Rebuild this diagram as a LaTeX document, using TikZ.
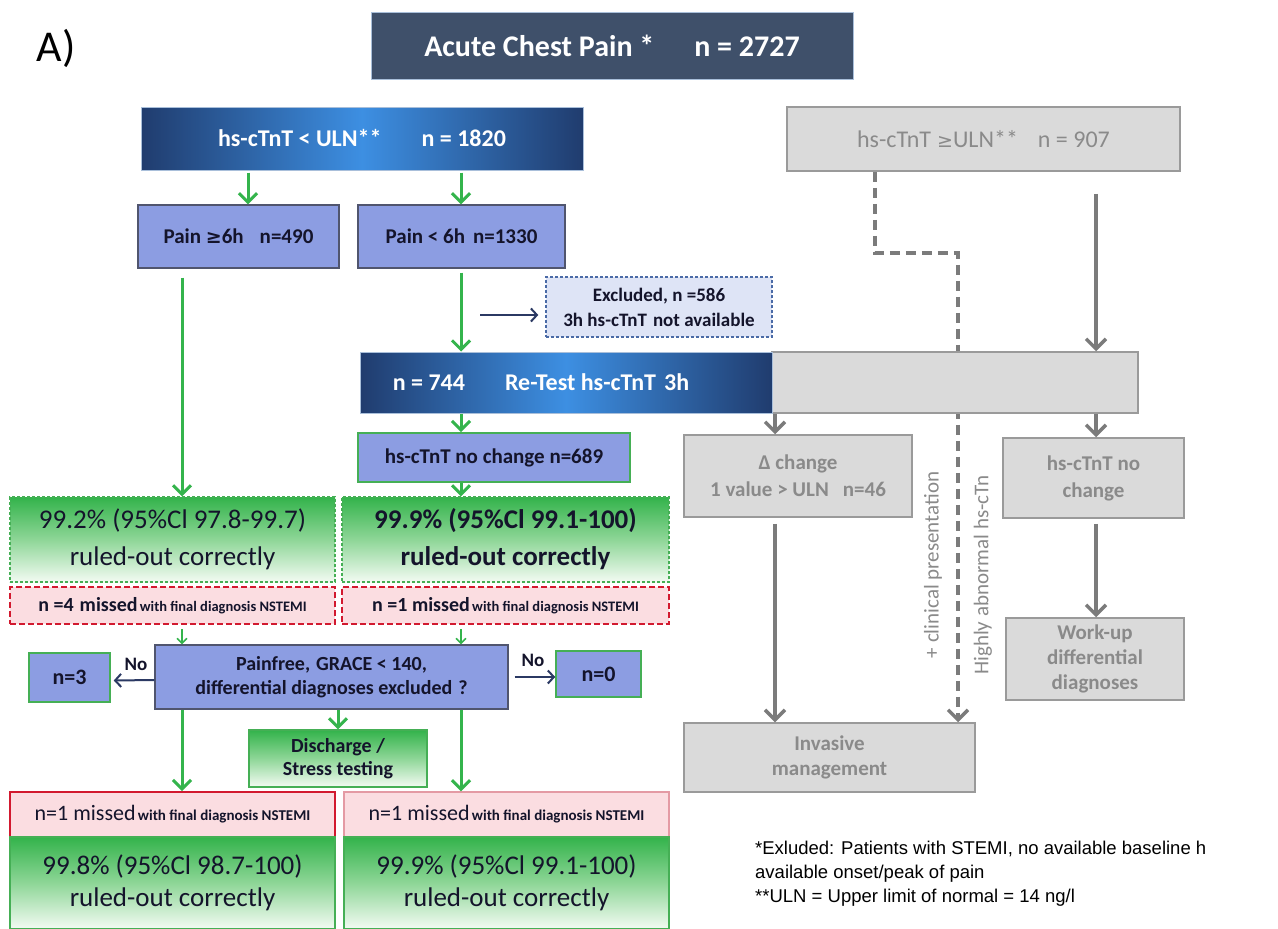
\documentclass[tikz,border=0pt]{standalone}
\usepackage{fontspec}
\setmainfont{Carlito}
\newfontfamily\arialf{Liberation Sans}
\newfontfamily\dejavu{DejaVu Sans}
\usetikzlibrary{arrows.meta,calc}
\pgfdeclarelayer{bg}
\pgfsetlayers{bg,main}
\definecolor{slate}{HTML}{3F506A}
\definecolor{slateedge}{HTML}{A9BFDA}
\definecolor{navyA}{HTML}{203C6E}
\definecolor{blueB}{HTML}{3D8FE2}
\definecolor{peri}{HTML}{8C9DE2}
\definecolor{periedge}{HTML}{50556E}
\definecolor{ink}{HTML}{14142B}
\definecolor{grn}{HTML}{33B34B}
\definecolor{grnmid}{HTML}{8ED697}
\definecolor{grnlight}{HTML}{F3FBF3}
\definecolor{grnedge}{HTML}{45AF55}
\definecolor{arrgrn}{HTML}{34B44C}
\definecolor{pinkf}{HTML}{FBDDE1}
\definecolor{redd}{HTML}{D2192F}
\definecolor{redl}{HTML}{E49AA4}
\definecolor{grayf}{HTML}{DADADA}
\definecolor{graye}{HTML}{9A9A9A}
\definecolor{grayt}{HTML}{8A8A8A}
\definecolor{grayarr}{HTML}{7B7B7B}
\definecolor{excf}{HTML}{DEE4F6}
\definecolor{excedge}{HTML}{4A6AA6}
\definecolor{arrnavy}{HTML}{2B3963}
\newcommand{\fz}[2]{\fontsize{#1}{#2}\selectfont}
\newcommand{\geqs}{{\dejavu\fz{19}{22}≥}}
\tikzset{
 bx/.style={rectangle, inner sep=0pt, align=center},
 darkbox/.style={bx, fill=slate, draw=slateedge, line width=1pt, text=white, font=\bfseries\fz{30}{36}},
 bluebox/.style={bx, left color=navyA, right color=navyA, middle color=blueB, draw=slateedge, line width=1pt, text=white, font=\bfseries\fz{24}{29}},
 peribox/.style={bx, fill=peri, draw=periedge, line width=1.3pt, text=ink, font=\bfseries\fz{21}{25}},
 graybox/.style={bx, fill=grayf, draw=graye, line width=1.5pt, text=grayt, font=\bfseries\fz{21}{25}},
 grnbox/.style={bx, top color=grn, bottom color=grnlight, middle color=grnmid, text=ink},
 pinkbox/.style={bx, fill=pinkf, text=ink},
 garr/.style={draw=arrgrn, line width=3pt, -{Straight Barb[length=9pt,width=18pt]}},
 gsmall/.style={draw=arrgrn, line width=1.5pt, -{Straight Barb[length=5pt,width=10pt]}},
 grarr/.style={draw=grayarr, line width=3.5pt, -{Straight Barb[length=10pt,width=20pt]}},
 narr/.style={draw=arrnavy, line width=2pt, -{Straight Barb[length=6pt,width=13pt]}},
 dasharr/.style={draw=grayarr, line width=3.5pt, dash pattern=on 10pt off 6pt, -{Straight Barb[length=10pt,width=20pt]}},
 lab/.style={inner sep=0pt, text=ink, font=\bfseries\fz{19}{22}}
}
\begin{document}
\begin{tikzpicture}[x=1pt,y=-1pt]
\useasboundingbox (0,0) rectangle (1278,929);
\begin{pgfonlayer}{bg}
\fill[white] (0,0) rectangle (1278,929);
\end{pgfonlayer}

% column coordinates
\coordinate (pA) at (248,0);
\coordinate (colA) at (182,0);
\coordinate (colB) at (461,0);
\coordinate (colC) at (775,0);
\coordinate (colE) at (1096,0);
\coordinate (dA) at (875,0);
\coordinate (dturn) at (958,253);
\coordinate (exs) at (480,315);

\node[inner sep=0pt, font=\fz{44}{52}] (lbl) at (56,48) {A)};

\node[darkbox, minimum width=482, minimum height=67] (title) at (612,46) {Acute Chest Pain *\hspace{40pt}n = 2727};

\node[bluebox, minimum width=442, minimum height=63] (ulnlow) at (362,138.5) {hs-cTnT < ULN**\hspace{40pt}n = 1820};
\node[bx, fill=grayf, draw=graye, line width=1.5pt, text=grayt, font=\fz{24}{29}, minimum width=393, minimum height=64] (graytop) at (983.5,139) {hs-cTnT\hspace{6pt}\geqs ULN**\hspace{20pt}n = 907};

\node[peribox, minimum width=201, minimum height=63] (pain6) at (238.5,236.5) {Pain \geqs6h\hspace{16pt}n=490};
\node[peribox, minimum width=207, minimum height=63] (painlt) at (461.5,236.5) {Pain < 6h\hspace{8pt}n=1330};

\node[bx, fill=excf, draw=excedge, line width=1.4pt, dash pattern=on 3pt off 2pt, text=ink, font=\bfseries\fz{19}{25}, minimum width=226, minimum height=60] (excl) at (659,307) {Excluded, n =586\\3h hs-cTnT\hspace{6pt}not available};

\node[graybox, minimum width=366, minimum height=61] (retestgray) at (955,382.5) {};
\node[bluebox, minimum width=412, minimum height=61] (retest) at (566,382.5) {n = 744\hspace{40pt}Re-Test hs-cTnT\hspace{8pt}3h\hspace*{50pt}};

\node[peribox, draw=grnedge, line width=2pt, minimum width=272, minimum height=49] (nochg) at (494,457.5) {hs-cTnT no change n=689};

\node[grnbox, draw=grnedge, line width=1.2pt, dash pattern=on 3pt off 2pt, font=\fz{27}{37}, minimum width=325, minimum height=85] (grn1) at (172.5,539.5) {99.2\% (95\%Cl 97.8-99.7)\\ruled-out correctly};
\node[grnbox, draw=grnedge, line width=1.2pt, dash pattern=on 3pt off 2pt, font=\bfseries\fz{27}{37}, minimum width=327, minimum height=85] (grn2) at (505.5,539.5) {99.9\% (95\%Cl 99.1-100)\\ruled-out correctly};

\node[pinkbox, draw=redd, line width=2pt, dash pattern=on 6pt off 3pt, font=\bfseries, minimum width=325, minimum height=37] (red1) at (172.5,605.5) {{\fz{20}{24}n =4\hspace{6pt}missed} {\fz{14.5}{17}with final diagnosis NSTEMI}};
\node[pinkbox, draw=redd, line width=2pt, dash pattern=on 6pt off 3pt, font=\bfseries, minimum width=327, minimum height=37] (red2) at (505.5,605.5) {{\fz{20}{24}n =1 missed} {\fz{14.5}{17}with final diagnosis NSTEMI}};

\node[peribox, font=\bfseries\fz{20}{24}, minimum width=353, minimum height=64] (painfree) at (331.5,677) {Painfree,\hspace{6pt}GRACE < 140,\\differential diagnoses excluded\hspace{6pt}?};
\node[peribox, draw=grnedge, line width=1.5pt, font=\bfseries\fz{22}{26}, minimum width=81, minimum height=49] (n3) at (69.5,677.5) {n=3};
\node[peribox, draw=grnedge, line width=1.5pt, font=\bfseries\fz{22}{26}, minimum width=85, minimum height=46] (n0) at (598.5,674) {n=0};

\node[grnbox, draw=grnedge, line width=1.2pt, font=\bfseries\fz{20}{23}, minimum width=178, minimum height=57] (disch) at (338,758.5) {Discharge /\\Stress testing};

\node[pinkbox, draw=redd, line width=2pt, minimum width=325, minimum height=45] (red3) at (172.5,814.5) {{\fz{22}{26}n=1 missed} {\bfseries\fz{15}{18}with final diagnosis NSTEMI}};
\node[pinkbox, draw=redl, line width=1.5pt, minimum width=325, minimum height=45] (red4) at (506.5,814.5) {{\fz{22}{26}n=1 missed} {\bfseries\fz{15}{18}with final diagnosis NSTEMI}};

\node[grnbox, draw=grnedge, line width=1.5pt, font=\fz{27}{32}, minimum width=325, minimum height=92] (grn3) at (172.5,883) {99.8\% (95\%Cl 98.7-100)\\ruled-out correctly};
\node[grnbox, draw=grnedge, line width=1.5pt, font=\fz{27}{32}, minimum width=325, minimum height=92] (grn4) at (506.5,883) {99.9\% (95\%Cl 99.1-100)\\ruled-out correctly};

% right side
\node[graybox, font=\bfseries\fz{21}{27}, minimum width=228, minimum height=82] (delta) at (798,476) {Δ change\\1 value > ULN\hspace{14pt}n=46};
\node[graybox, font=\bfseries\fz{21}{27}, minimum width=181, minimum height=80] (rnochg) at (1093.5,478) {hs-cTnT no\\change};
\node[graybox, font=\bfseries\fz{21}{25}, minimum width=178, minimum height=82] (workup) at (1095,659) {Work-up\\differential\\diagnoses};
\node[graybox, font=\bfseries\fz{21}{25}, minimum width=291, minimum height=69] (invasive) at (829.5,757.5) {Invasive\\management};

\node[rotate=90, inner sep=0pt, text=grayt, font=\fz{21}{24}] (clin) at (933,565) {+ clinical presentation};
\node[rotate=90, inner sep=0pt, text=grayt, font=\fz{21}{24}] (high) at (983,575) {Highly abnormal hs-cTn};

% footnote
\node[anchor=base west, inner sep=0pt, font=\arialf\fz{18.5}{22}] (fn1) at (755,854) {*Exluded: Patients with STEMI, no available baseline h};
\node[anchor=base west, inner sep=0pt, font=\arialf\fz{18.5}{22}] (fn2) at (755,878) {available onset/peak of pain};
\node[anchor=base west, inner sep=0pt, font=\arialf\fz{18.5}{22}] (fn3) at (755,902) {**ULN = Upper limit of normal = 14 ng/l};

% connectors
\draw[garr] ($(ulnlow.south -| pA)+(0,2)$) -- (pain6.north -| pA);
\draw[garr] ($(ulnlow.south -| colB)+(0,2)$) -- (painlt.north -| colB);
\draw[garr] ($(pain6.south -| colA)+(0,9)$) -- (grn1.north -| colA);
\draw[garr] ($(painlt.south -| colB)+(0,4)$) -- (retest.north -| colB);
\draw[narr] (exs) -- ($(excl.west |- exs)+(-7,0)$);
\draw[garr] (retest.south -| colB) -- (nochg.north -| colB);
\draw[garr] (nochg.south -| colB) -- (grn2.north -| colB);
\draw[gsmall] ($(red1.south -| colA)+(0,4)$) -- (painfree.north -| colA);
\draw[gsmall] ($(red2.south -| colB)+(0,4)$) -- (painfree.north -| colB);
\draw[narr] ($(painfree.west)+(0,3)$) -- ($(n3.east)+(3,3)$) node[lab, pos=0.45, above=9pt] (noL) {No};
\draw[narr] ($(painfree.east)+(6,0)$) -- (n0.west |- painfree.east) node[lab, pos=0.45, above=9pt] (noR) {No};
\draw[garr] (painfree.south -| colA) -- (red3.north -| colA);
\draw[garr] (painfree.south -| colB) -- (red4.north -| colB);
\draw[garr] (painfree.south -| disch) -- (disch.north);

\begin{pgfonlayer}{bg}
\draw[dasharr] (graytop.south -| dA) |- (dturn) -- (invasive.north -| dturn);
\end{pgfonlayer}
\draw[grarr] ($(graytop.south -| colE)+(0,22)$) -- (retestgray.north -| colE);
\draw[grarr] (retestgray.south -| colC) -- (delta.north -| colC);
\draw[grarr] (retestgray.south -| colE) -- (rnochg.north -| colE);
\draw[grarr] ($(delta.south -| colC)+(0,6)$) -- (invasive.north -| colC);
\draw[grarr] ($(rnochg.south -| colE)+(0,5)$) -- (workup.north -| colE);
\end{tikzpicture}
\end{document}
